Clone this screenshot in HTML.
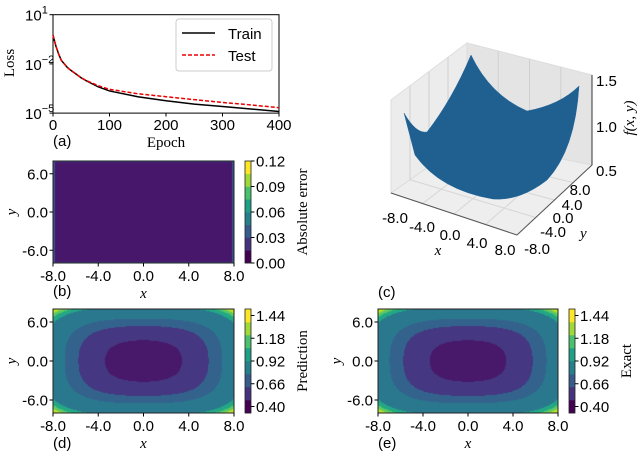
<!DOCTYPE html>
<html><head><meta charset="utf-8"><style>
body{margin:0;background:#fff;width:640px;height:454px;overflow:hidden;position:relative}
svg{position:absolute;left:0;top:0}
canvas{position:absolute}
text{font-family:"Liberation Sans",sans-serif;font-size:15px;fill:#000}
.serif{font-family:"Liberation Serif",serif}
.it{font-family:"Liberation Serif",serif;font-style:italic}
</style></head><body>
<canvas id="cb" width="181" height="102" style="left:53px;top:161px"></canvas>
<canvas id="cd" width="181" height="104" style="left:53px;top:309px"></canvas>
<canvas id="ce" width="180" height="104" style="left:378px;top:309px"></canvas>
<svg id="s" width="640" height="454"></svg>
<script>
const epochs=[0,5,10,15,20,25,30,40,50,60,80,100,150,200,250,300,350,400];
const trainLoss=[-0.25,-0.9,-1.4,-1.8,-2.0,-2.2,-2.35,-2.6,-2.85,-3.05,-3.4,-3.65,-4.0,-4.25,-4.45,-4.6,-4.75,-4.9];
const testLoss=[-0.25,-0.9,-1.4,-1.8,-2.0,-2.2,-2.35,-2.6,-2.85,-3.03,-3.33,-3.55,-3.82,-4.0,-4.18,-4.35,-4.5,-4.67];
const xTicks=[0,100,200,300,400];
const yTickExp=[1,-2,-5];
const gridTicks=[-8,-4,0,4,8];
const gridYTicks=[-6,0,6];
const errTicks=["0.00","0.03","0.06","0.09","0.12"];
const predTicks=["0.40","0.66","0.92","1.18","1.44"];
const bandColors=["#440154","#46327e","#365c8d","#277f8e","#1fa187","#4ac16d","#a0da39","#fde725"];
const mapColors=["#48186a","#453781","#33638d","#2a788e","#22a884","#5ec962","#b5de2b"];
const bandEdges=[15.6,66,120,270,320,360];
const NS="http://www.w3.org/2000/svg";
const s=document.getElementById('s');
function el(tag,attrs,txt){const e=document.createElementNS(NS,tag);for(const k in attrs)e.setAttribute(k,attrs[k]);if(txt!==undefined)e.textContent=txt;s.appendChild(e);return e;}
// ---- panel a
const ax=e=>53+e/400*226, ay=l=>14.7+(1-l)*16.4;
let r=el('rect',{x:53,y:14.7,width:226,height:98.4,fill:'none',stroke:'#000','stroke-width':1});

xTicks.forEach(t=>{let tk=el('line',{x1:ax(t),x2:ax(t),y1:113,y2:116.5,stroke:'#000'});
let tx=el('text',{x:ax(t),y:130,'text-anchor':'middle'},t);});
yTickExp.forEach(p=>{el('line',{x1:49.5,x2:53,y1:ay(p),y2:ay(p),stroke:'#000'});
let tx=el('text',{x:25,y:ay(p)+6});
const a=document.createElementNS(NS,'tspan');a.textContent='10';tx.appendChild(a);
const b=document.createElementNS(NS,'tspan');b.setAttribute('dy','-7');b.setAttribute('font-size','11');b.textContent=(p<0?'−':'')+Math.abs(p);tx.appendChild(b);});
let yl=el('text',{x:0,y:0,class:'serif',transform:'translate(14,63) rotate(-90)','text-anchor':'middle'},'Loss');

let xl=el('text',{x:166,y:147,class:'serif','text-anchor':'middle'},'Epoch');

let pa=el('text',{x:53,y:146},'(a)');
let p1=el('path',{d:epochs.map((e,i)=>(i?'L':'M')+ax(e)+','+ay(trainLoss[i])).join(''),fill:'none',stroke:'#000','stroke-width':1.5});

let p2=el('path',{d:epochs.map((e,i)=>(i?'L':'M')+ax(e)+','+ay(testLoss[i])).join(''),fill:'none',stroke:'#e00','stroke-width':1.5,'stroke-dasharray':'4,2'});

let lg=el('rect',{x:176,y:19,width:96,height:52,rx:3,fill:'#fff',stroke:'#ccc'});
el('line',{x1:182,x2:215,y1:33,y2:33,stroke:'#000','stroke-width':1.5});
let l1=el('text',{x:228,y:39},'Train');
el('line',{x1:182,x2:215,y1:55,y2:55,stroke:'#e00','stroke-width':1.5,'stroke-dasharray':'4,2'});
let l2=el('text',{x:228,y:61},'Test');
// ---- heatmaps
function pq(u){return u*u+0.03*u*u*u*u;}
function band(x,y){const v=pq(x)+pq(y*1.07);let i=0;while(i<bandEdges.length&&v>bandEdges[i])i++;return i;}
function drawMap(id,err){const c=document.getElementById(id),g=c.getContext('2d');const W=c.width,H=c.height;
for(let i=0;i<W;i++)for(let j=0;j<H;j++){const x=-8+16*(i+.5)/W,y=8-16*(j+.5)/H;
g.fillStyle=err?((i<2||i>W-3||j<1||j>H-2)?'#3b528b':'#47176b'):mapColors[band(x,y)];g.fillRect(i,j,1,1);}}
drawMap('cb',true);drawMap('cd',false);drawMap('ce',false);
function panel(L,T,W,H,cbx,ticks,cbLabel,lab,labY,name){
let fr=el('rect',{x:L,y:T,width:W,height:H,fill:'none',stroke:'#222'});
const sx=v=>L+(v+8)/16*W, sy=v=>T+(8-v)/16*H;
gridTicks.forEach(t=>{el('line',{x1:sx(t),x2:sx(t),y1:T+H,y2:T+H+3.5,stroke:'#000'});let tx=el('text',{x:sx(t),y:T+H+18,'text-anchor':'middle'},t.toFixed(1));});
gridYTicks.forEach(t=>{el('line',{x1:L-3.5,x2:L,y1:sy(t),y2:sy(t),stroke:'#000'});let tx=el('text',{x:L-5,y:sy(t)+5.5,'text-anchor':'end'},t.toFixed(1));});
let xt=el('text',{x:L+W/2,y:T+H+35,class:'it','text-anchor':'middle'},'x');
let yt=el('text',{x:0,y:0,class:'it',transform:`translate(${L-37},${T+H/2}) rotate(-90)`,'text-anchor':'middle'},'y');
const bh=H/8;bandColors.forEach((c,i)=>{let b=el('rect',{x:cbx,y:T+H-(i+1)*bh,width:6,height:bh+0.3,fill:c});});
el('rect',{x:cbx,y:T,width:6,height:H,fill:'none',stroke:'#222','stroke-width':.8});
const top=T+H/16*1, bot=T+H-H/16*1;
ticks.forEach((t,i)=>{const yy=name==='error'?T+H-i*H/4:bot-i*(bot-top)/4;el('line',{x1:cbx+6,x2:cbx+9.5,y1:yy,y2:yy,stroke:'#000'});let tx=el('text',{x:cbx+11,y:yy+5.5},t);});
let cl=el('text',{x:0,y:0,class:'serif',transform:`translate(${cbx+62},${T+H/2}) rotate(-90)`,'text-anchor':'middle'},cbLabel);
if(lab){let pl=el('text',{x:L,y:labY},lab);}}
panel(53,161,181,102,245,errTicks,'Absolute error','(b)',296,'error');
panel(53,309,181,104,245,predTicks,'Prediction','(d)',448,'prediction');
panel(378,309,180,104,569,predTicks,'Exact','(e)',448,'exact');
let pc=el('text',{x:378,y:297},'(c)');
// ---- 3D surface
let lp=el('polygon',{points:'391,100 467,43 467,140 391,193',fill:'#ececec',stroke:'#ddd'});
let rp=el('polygon',{points:'467,43 592,75 592,165 467,140',fill:'#e4e4e4',stroke:'#ddd'});
let fp=el('polygon',{points:'391,193 467,140 592,165 517,235',fill:'#eeeeee',stroke:'#ddd'});
[0.25,0.5,0.75].forEach(f=>{el('line',{x1:391+76*f,y1:100-57*f,x2:391+76*f,y2:193-53*f,stroke:'#d0d0d0'});el('line',{x1:467+125*f,y1:43+32*f,x2:467+125*f,y2:140+25*f,stroke:'#d0d0d0'});
el('line',{x1:391+126*f,y1:193+42*f,x2:467+125*f,y2:140+25*f,stroke:'#d6d6d6'});el('line',{x1:391+76*f,y1:193-53*f,x2:517+75*f,y2:235-70*f,stroke:'#d6d6d6'});});
let sf=el('path',{d:'M404,113 Q416,134 427,132 Q452,100 471,55 Q490,95 527,111 Q560,105 579,86 Q575,150 547,180 Q520,201 493,199 Q440,190 415,155 Z',fill:'#1f6090',stroke:'#22669a','stroke-width':.5});

el('line',{x1:391,y1:193,x2:517,y2:235,stroke:'#555'});el('line',{x1:517,y1:235,x2:592,y2:165,stroke:'#555'});el('line',{x1:592,y1:75,x2:592,y2:165,stroke:'#333'});
[['1.5',80],['1.0',126],['0.5',170]].forEach(a=>{let t=el('text',{x:596,y:a[1]+6},a[0]);});
let zt=el('text',{x:0,y:0,class:'it',transform:'translate(634,118) rotate(-90)','text-anchor':'middle'},'f(x, y)');
[['8.0',580,190],['4.0',572,205],['0.0',563,218],['-4.0',553,232],['-8.0',537,249]].forEach(a=>{let t=el('text',{x:a[1],y:a[2]+5,'text-anchor':'middle'},a[0]);});
let y3=el('text',{x:580,y:238,class:'it'},'y');
[['-8.0',395,218],['-4.0',422,227],['0.0',450,235],['4.0',477,243],['8.0',505,250]].forEach(a=>{let t=el('text',{x:a[1],y:a[2]+5,'text-anchor':'middle'},a[0]);});
let x3=el('text',{x:438,y:255,class:'it','text-anchor':'middle'},'x');
</script>
</body></html>
